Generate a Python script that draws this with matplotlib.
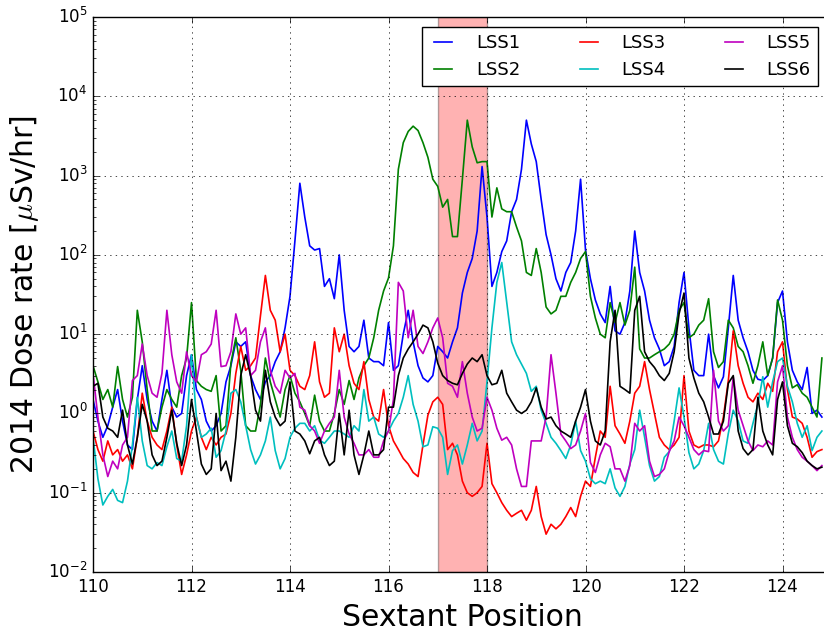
import matplotlib
matplotlib.use("Agg")
import matplotlib.pyplot as plt
import numpy as np

'''Dose rate readings, one value per 0.1 sextant step from 110.0'''
x_start = 110.0
x_step = 0.1

lss1 = [1.5, 0.8, 0.5, 0.7, 1.2, 2.0, 0.8, 0.4, 0.35, 1.5,
        4.0, 1.5, 0.8, 0.6, 1.5, 3.5, 1.2, 0.9, 1.0, 3.0,
        5.5, 2.0, 1.5, 0.8, 0.6, 0.7, 1.0, 2.5, 4.0, 8.0,
        7.0, 8.0, 3.0, 2.0, 1.5, 2.5, 3.0, 4.5, 6.0, 12,
        30, 150, 800, 300, 130, 115, 120, 40, 50, 28,
        100, 20, 7, 6, 7, 15, 5, 4.5, 4.5, 4,
        14, 3.5, 4, 10, 20, 8, 4, 2.8, 2.5, 3,
        7, 6, 5, 8, 12, 33, 60, 90, 200, 1300,
        300, 40, 60, 110, 150, 350, 500, 1200, 5000, 2500,
        1500, 500, 180, 100, 50, 35, 60, 80, 200, 900,
        115, 50, 27, 18, 14, 40, 11, 10, 14, 35,
        200, 60, 35, 15, 9, 6.5, 4, 4.5, 7, 25,
        60, 12, 3.5, 3, 3, 10, 3, 2.1, 2.9, 12,
        55, 15, 9, 6, 3.5, 2.7, 2.6, 3, 5, 25,
        35, 8, 3.5, 2.5, 2, 3.8, 1, 1.1, 0.9]

lss2 = [4, 2.5, 1.5, 2, 1.2, 3.9, 1.5, 0.9, 1.6, 20,
        8, 2, 0.6, 0.6, 1.2, 2, 1.5, 1.2, 3, 5,
        25, 2.6, 2.2, 2, 1.9, 3, 0.6, 0.7, 4.3, 9,
        3.5, 0.7, 0.6, 0.6, 1.3, 5, 2.5, 1.5, 0.9, 2,
        3, 1.8, 1.4, 1.0, 0.7, 1.7, 0.8, 0.6, 0.6, 1.0,
        2.0, 1.3, 2.6, 1.5, 2.8, 4, 5, 9, 20, 35,
        51, 130, 1200, 2600, 3600, 4200, 3700, 2600, 1700, 900,
        730, 400, 500, 170, 170, 900, 5000, 2300, 1450, 1500,
        1500, 300, 700, 380, 350, 350, 225, 150, 60, 55,
        120, 60, 22, 18, 20, 30, 30, 45, 60, 90,
        110, 30, 16, 10, 9, 25, 14, 25, 13, 20,
        70, 6.5, 5, 5, 5.5, 6, 6.5, 7.5, 10, 20,
        25, 9, 10, 13, 15, 28, 6, 3.8, 4.5, 15,
        12, 7, 6, 4, 2.4, 4, 8, 3, 5, 27,
        15, 4, 2.1, 2.3, 1.8, 1.6, 1.2, 0.9, 5]

lss3 = [0.6, 0.35, 0.25, 0.45, 0.3, 0.35, 0.25, 0.3, 0.2, 0.5,
        1.8, 0.8, 0.5, 0.4, 0.35, 0.6, 1.2, 0.4, 0.17, 0.3,
        0.6, 0.9, 0.5, 0.35, 0.5, 0.4, 0.5, 0.55, 1.0, 3.2,
        7, 3.5, 4, 5, 17, 55, 20, 15, 6, 10,
        3.5, 3, 2.2, 2, 3, 8, 2.5, 1.6, 1.8, 12,
        6, 10, 4, 2.4, 2, 4.5, 1.5, 0.9, 0.8, 2,
        0.7, 0.45, 0.35, 0.27, 0.23, 0.18, 0.16, 0.4, 0.95, 1.4,
        1.6, 1.3, 0.35, 0.42, 0.3, 0.14, 0.1, 0.09, 0.1, 0.12,
        0.42, 0.13, 0.1, 0.075, 0.06, 0.05, 0.055, 0.06, 0.045, 0.06,
        0.12, 0.05, 0.03, 0.04, 0.035, 0.04, 0.05, 0.065, 0.05, 0.09,
        0.14, 0.12, 0.28, 0.6, 0.5, 2.2, 0.7, 0.55, 0.42, 0.8,
        1.8, 2.2, 4.5, 2, 1.0, 0.5, 0.4, 0.35, 0.4, 0.5,
        3, 0.6, 0.4, 0.37, 0.4, 0.4, 0.38, 0.45, 0.9, 2.6,
        11, 4, 2.4, 1.6, 1.4, 1.8, 1.5, 2.4, 1.9, 6,
        8, 2, 0.9, 0.85, 0.75, 0.5, 0.28, 0.33, 0.35]

lss4 = [0.5, 0.15, 0.07, 0.09, 0.11, 0.08, 0.075, 0.14, 0.4, 1.6,
        0.45, 0.22, 0.2, 0.24, 0.22, 0.38, 0.6, 0.27, 0.25, 0.7,
        5.5, 0.9, 0.5, 0.55, 0.65, 0.28, 0.34, 0.6, 1.8, 2,
        1.4, 0.7, 0.35, 0.23, 0.3, 0.45, 0.9, 0.34, 0.2, 0.27,
        0.5, 0.65, 0.75, 0.75, 0.6, 0.7, 0.46, 0.42, 0.5, 0.6,
        0.6, 0.55, 0.5, 0.7, 0.6, 2.0, 0.8, 0.9, 0.55, 0.5,
        0.6, 0.8, 1.0, 1.6, 3.0, 1.3, 0.8, 0.38, 0.4, 0.68,
        0.65, 0.5, 0.17, 0.34, 0.4, 0.23, 0.4, 0.75, 0.45, 0.6,
        2.5, 12, 45, 80, 25, 8, 5.5, 4.2, 3.2, 1.9,
        2.2, 1.1, 0.75, 0.5, 0.42, 0.34, 0.27, 0.4, 0.8, 0.34,
        0.25, 0.15, 0.13, 0.14, 0.13, 0.2, 0.115, 0.09, 0.12, 0.23,
        0.35, 1.1, 0.5, 0.22, 0.14, 0.16, 0.28, 0.33, 0.8, 2.1,
        0.9, 0.32, 0.2, 0.23, 0.34, 0.75, 0.35, 0.25, 0.23, 0.56,
        1.1, 0.8, 0.45, 0.42, 0.75, 1.3, 2.9, 1.2, 2.5, 4.5,
        5, 2.2, 1.4, 0.75, 0.5, 0.7, 0.34, 0.5, 0.6]

lss5 = [3.2, 0.9, 0.3, 0.16, 0.25, 0.2, 0.4, 0.5, 2.6, 3.0,
        7.5, 3, 1.8, 1.6, 3.2, 20, 5.5, 2.5, 1.8, 6,
        3, 2.5, 5.5, 6, 7.5, 20, 3.9, 4, 6, 18,
        10, 12, 3, 3.5, 8, 12, 3.5, 2.2, 1.8, 3.5,
        2.8, 3.2, 1.2, 1.1, 0.7, 0.6, 0.42, 0.6, 0.75, 0.9,
        3.5, 0.9, 0.55, 0.42, 0.3, 0.3, 0.35, 0.28, 0.28, 0.45,
        0.6, 1.5, 45, 35, 9, 20, 7, 5.7, 8, 12,
        16, 9, 2.4, 2.2, 1.6, 4.5, 1.8, 0.9, 0.6, 0.65,
        1.6, 1.1, 0.65, 0.46, 0.5, 0.4, 0.2, 0.12, 0.12, 0.45,
        0.45, 0.45, 0.9, 5.5, 1.8, 0.55, 0.45, 0.36, 0.4, 0.6,
        1.0, 0.24, 0.18, 0.3, 0.42, 0.38, 0.2, 0.2, 0.14, 0.22,
        0.75, 0.6, 0.7, 0.25, 0.16, 0.17, 0.2, 0.33, 0.45, 0.9,
        0.7, 0.5, 0.35, 0.3, 0.34, 0.33, 3.5, 0.8, 0.6, 0.7,
        2.9, 1.1, 0.7, 0.45, 0.34, 0.4, 0.38, 0.45, 0.4, 2.5,
        4, 0.9, 0.5, 0.35, 0.28, 0.25, 0.22, 0.19, 0.22]

lss6 = [2.2, 2.4, 0.9, 0.65, 0.6, 0.5, 1.1, 0.4, 0.23, 0.5,
        1.3, 0.8, 0.3, 0.22, 0.25, 0.5, 1.1, 0.42, 0.22, 0.4,
        1.5, 0.6, 0.23, 0.17, 0.2, 1.0, 0.19, 0.25, 0.14, 0.5,
        3, 5.5, 3, 1.1, 0.8, 3.5, 1.4, 0.9, 0.7, 0.8,
        2.5, 0.6, 0.55, 0.45, 0.31, 0.45, 0.5, 0.3, 0.22, 0.25,
        1.0, 0.3, 1.1, 0.3, 0.17, 0.3, 0.6, 0.3, 0.3, 0.35,
        1.2, 1.2, 3, 5, 6.5, 8, 10, 13, 12, 8,
        4.3, 3, 2.6, 2.4, 2.3, 3.2, 4.2, 5, 4.5, 5.5,
        3, 2.3, 2.4, 3.5, 1.8, 1.4, 1.1, 1.0, 1.1, 1.4,
        2.1, 1.2, 0.85, 0.9, 0.7, 0.6, 0.55, 0.5, 0.8, 1.2,
        2, 0.8, 0.45, 0.4, 0.6, 8, 20, 2.2, 2, 1.8,
        20, 30, 6, 4.5, 3.8, 3, 2.6, 3.2, 6, 18,
        33, 5, 2.8, 1.8, 1.4, 0.9, 0.55, 0.55, 0.8, 2.4,
        3, 0.6, 0.36, 0.3, 0.35, 1.6, 0.6, 0.4, 0.3, 1.5,
        2.5, 0.7, 0.42, 0.38, 0.32, 0.25, 0.22, 0.2, 0.21]

series = [("LSS1", lss1, "b"), ("LSS2", lss2, "g"), ("LSS3", lss3, "r"),
          ("LSS4", lss4, "c"), ("LSS5", lss5, "m"), ("LSS6", lss6, "k")]

x_ticks = [110, 112, 114, 116, 118, 120, 122, 124]
highlight = (117, 118)

'''Plot'''
plt.style.use("classic")
fig = plt.figure(figsize=(8.24, 6.30), dpi=100, facecolor="white")
ax = fig.add_axes([93/824, 58/630, 15*49.25/824, 555/630])

ax.axvspan(highlight[0], highlight[1], facecolor="r", edgecolor="k", alpha=0.3, lw=1, zorder=0)
for name, vals, col in series:
    xs = x_start + x_step*np.arange(len(vals))
    ax.plot(xs, vals, color=col, lw=1.2, label=name)

ax.set_yscale("log")
ax.set_xlim(110, 125)
ax.set_ylim(1e-2, 1e5)
ax.set_xticks(x_ticks)
ax.grid(True)
ax.tick_params(labelsize=12)

ax.set_xlabel("Sextant Position", fontsize=21.5)
ax.set_ylabel(r"2014 Dose rate [$\mu$Sv/hr]", fontsize=21.5)

ax.legend(loc="upper right", ncol=3, fontsize=13, bbox_to_anchor=(818/824, 1 - 27/630),
          bbox_transform=fig.transFigure, borderaxespad=0, handlelength=1.6,
          handletextpad=1.0, columnspacing=3.0)

fig.savefig("out.png", dpi=100, facecolor="white")
